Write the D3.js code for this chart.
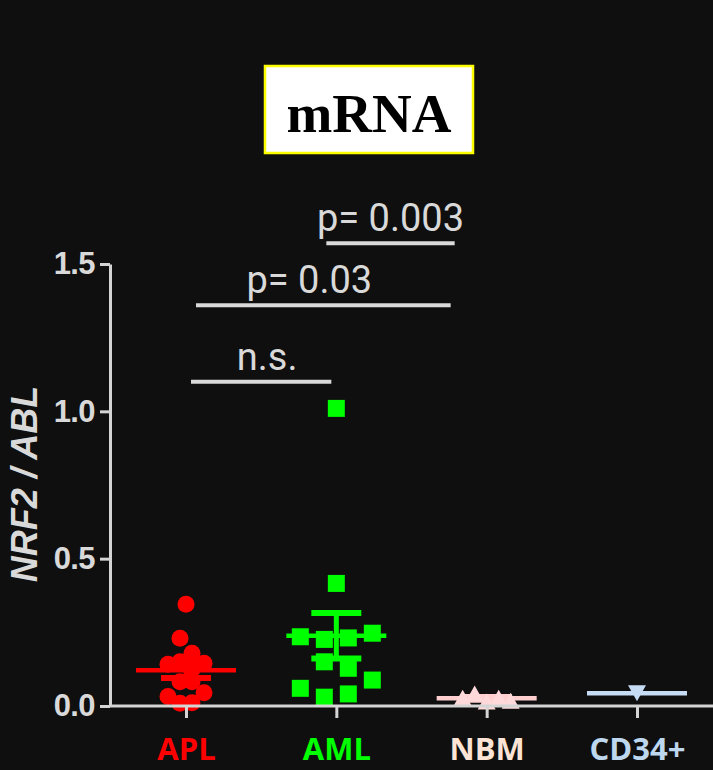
<!DOCTYPE html>
<html lang="en">
<head>
<meta charset="UTF-8" />
<title>NRF2 mRNA</title>
<style>
  body { margin: 0; background: #0f0f0f; }
  svg { display: block; }
  .axis path, .axis line { stroke: #d4d4d4; stroke-width: 3; }
</style>
</head>
<body>
<script src="https://d3js.org/d3.v7.min.js"></script>
<script>
// data
const groups = ["APL", "AML", "NBM", "CD34+"];
const aplValues = [0.345, 0.23, 0.142, 0.15, 0.125, 0.179, 0.145, 0.032, 0.082, 0.082, 0.045, 0.009, 0.011];
const amlValues = [1.01, 0.416, 0.235, 0.226, 0.231, 0.247, 0.15, 0.128, 0.06, 0.03, 0.041, 0.088];
const nbmValues = [0.028, 0.042, 0.015, 0.028, 0.018];
const cd34Values = [0.043];
const yTicks = [0, 0.5, 1.0, 1.5];
const comparisons = [
  { from: "APL", to: "AML", y: 1.10, label: "n.s." },
  { from: "APL", to: "NBM", y: 1.36, label: "p= 0.03" },
  { from: "AML", to: "NBM", y: 1.57, label: "p= 0.003" },
];

// styling
const W = 713, H = 770;
const style = {
  APL:    { marker: "circle",  fill: "#ff0000", line: "#ff0000", label: "#ff0000", spacing: 12 },
  AML:    { marker: "square",  fill: "#00ff00", line: "#00ff00", label: "#00ff00", spacing: 24 },
  NBM:    { marker: "triUp",   fill: "#ffd9d9", line: "#ffcfcf", label: "#fbe4d5", spacing: 12 },
  "CD34+":{ marker: "triDown", fill: "#c6dcf5", line: "#c6dcf5", label: "#bdd7ee", spacing: 12 },
};
const barInset = [[5, 5], [10, 36], [-10, 32]];
const labelShift = [6, -14, 0];
const ROW_PX = 18;
const grey = "#d9d9d9";

const seriesValues = { APL: aplValues, AML: amlValues, NBM: nbmValues, "CD34+": cd34Values };

const svg = d3.select("body").append("svg").attr("width", W).attr("height", H);
svg.append("rect").attr("width", W).attr("height", H).attr("fill", "#0f0f0f");

const x = d3.scalePoint().domain(groups).range([186, 637]);
const y = d3.scaleLinear().domain([0, 1.5]).range([706, 264]);

// spread points that sit on the same row, like a column scatter
function layout(values, spacing) {
  const order = d3.range(values.length).sort((a, b) => values[b] - values[a]);
  const rows = [];
  let row = null;
  order.forEach((i) => {
    const py = y(values[i]);
    if (!row || py - row.top > ROW_PX) {
      row = { top: py, idx: [] };
      rows.push(row);
    }
    row.idx.push(i);
  });
  const dx = [];
  rows.forEach((r) => {
    r.idx.sort((a, b) => a - b);
    r.idx.forEach((i, k) => (dx[i] = (k - (r.idx.length - 1) / 2) * spacing));
  });
  return values.map((v, i) => ({ value: v, dx: dx[i] }));
}

// title box
const title = svg.append("g");
title.append("rect")
  .attr("x", 265).attr("y", 66).attr("width", 208).attr("height", 87)
  .attr("fill", "#ffffff").attr("stroke", "#ffff00").attr("stroke-width", 2.5);
title.append("text")
  .attr("x", 369).attr("y", 132).attr("text-anchor", "middle")
  .attr("font-family", "'Liberation Serif', 'Times New Roman', serif")
  .attr("font-weight", "bold").attr("font-size", 55).attr("fill", "#000")
  .text("mRNA");

// mean +/- SEM
const stats = svg.append("g");
groups.forEach((g) => {
  const vals = seriesValues[g];
  const m = d3.mean(vals);
  const sd = d3.deviation(vals);
  const cx = x(g);
  const c = style[g].line;
  if (sd !== undefined) {
    const sem = sd / Math.sqrt(vals.length);
    stats.append("line")
      .attr("x1", cx).attr("x2", cx).attr("y1", y(m + sem)).attr("y2", y(m - sem))
      .attr("stroke", c).attr("stroke-width", 5);
    [m + sem, m - sem].forEach((v) => {
      stats.append("line")
        .attr("x1", cx - 25).attr("x2", cx + 25).attr("y1", y(v)).attr("y2", y(v))
        .attr("stroke", c).attr("stroke-width", 6);
    });
  }
  stats.append("line")
    .attr("x1", cx - 50).attr("x2", cx + 50).attr("y1", y(m)).attr("y2", y(m))
    .attr("stroke", c).attr("stroke-width", 4.5);
});

// points
const pts = svg.append("g");
groups.forEach((g) => {
  const st = style[g];
  const data = layout(seriesValues[g], st.spacing);
  const sel = pts.append("g").selectAll("path").data(data).join("path")
    .attr("transform", (d) => `translate(${x(g) + d.dx},${y(d.value)})`)
    .attr("fill", st.fill);
  if (st.marker === "circle") {
    sel.attr("d", d3.symbol(d3.symbolCircle, Math.PI * 8.5 * 8.5)());
  } else if (st.marker === "square") {
    sel.attr("d", "M-8.5,-8.5H8.5V8.5H-8.5Z");
  } else if (st.marker === "triUp") {
    sel.attr("d", "M0,-8L9,8H-9Z");
  } else {
    sel.attr("d", "M0,8L9,-8H-9Z");
  }
});

// significance bars
const sig = svg.append("g");
comparisons.forEach((c, i) => {
  const x1 = x(c.from) + barInset[i][0];
  const x2 = x(c.to) - barInset[i][1];
  sig.append("line")
    .attr("x1", x1).attr("x2", x2).attr("y1", y(c.y)).attr("y2", y(c.y))
    .attr("stroke", grey).attr("stroke-width", 4);
  sig.append("text")
    .attr("x", (x1 + x2) / 2 + labelShift[i]).attr("y", y(c.y) - 12)
    .attr("text-anchor", "middle")
    .attr("font-family", "Roboto, sans-serif").attr("font-weight", 400)
    .attr("font-size", 38).attr("fill", grey)
    .text(c.label);
});

// axes
const yAxis = svg.append("g").attr("class", "axis")
  .attr("transform", "translate(110,0)")
  .call(d3.axisLeft(y).tickValues(yTicks).tickFormat(d3.format(".1f"))
    .tickSize(10).tickSizeOuter(0).tickPadding(5));
yAxis.selectAll("text")
  .attr("font-family", "'Liberation Sans', Arial, sans-serif")
  .attr("font-size", 31).attr("font-weight", "bold")
  .attr("letter-spacing", "-0.6px").attr("fill", grey);

const xAxis = svg.append("g").attr("class", "axis")
  .attr("transform", `translate(0,${y(0)})`)
  .call(d3.axisBottom(x).tickSize(12).tickSizeOuter(0).tickPadding(19));
xAxis.select(".domain").remove();
xAxis.append("line")
  .attr("x1", 110).attr("x2", W).attr("y1", 0).attr("y2", 0);
xAxis.selectAll("text")
  .attr("font-family", "'Open Sans', Lato, sans-serif")
  .attr("font-size", 31).attr("font-weight", "bold")
  .attr("dy", "0.74em")
  .attr("fill", (d) => style[d].label);

svg.append("text")
  .attr("transform", "translate(37,484) rotate(-90)")
  .attr("text-anchor", "middle")
  .attr("font-family", "'Liberation Sans', Arial, sans-serif")
  .attr("font-weight", "bold").attr("font-style", "italic")
  .attr("font-size", 36).attr("fill", grey)
  .text("NRF2 / ABL");
</script>
</body>
</html>
